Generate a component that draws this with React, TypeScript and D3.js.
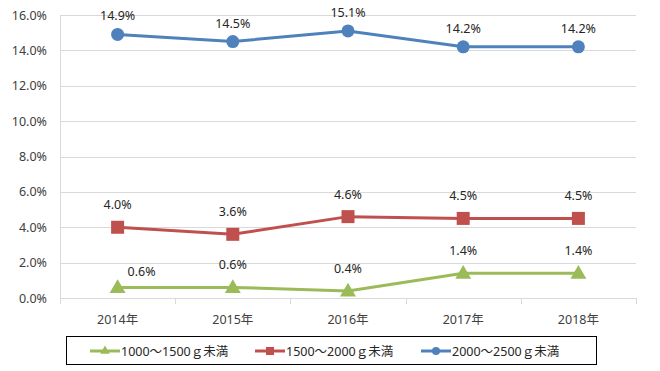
import React, { useEffect, useRef } from "react";
import * as d3 from "d3";

const years = ["2014年", "2015年", "2016年", "2017年", "2018年"];
const seriesNames = ["1000～1500ｇ未満", "1500～2000ｇ未満", "2000～2500ｇ未満"];
const green = [0.6, 0.6, 0.4, 1.4, 1.4];
const red = [4.0, 3.6, 4.6, 4.5, 4.5];
const blue = [14.9, 14.5, 15.1, 14.2, 14.2];
const yTicks = [0, 2, 4, 6, 8, 10, 12, 14, 16];

const colors = ["#9BBB59", "#C0504D", "#4F81BD"];
const font = "'Noto Sans', 'Noto Sans CJK JP', sans-serif";

const App = () => {
  const svgRef = useRef<SVGSVGElement | null>(null);

  useEffect(() => {
    const svg = d3.select(svgRef.current);
    svg.selectAll("*").remove();

    const margin = { top: 15, right: 24, bottom: 73, left: 60 };
    const W = 660, H = 371;
    const width = W - margin.left - margin.right;
    const height = H - margin.top - margin.bottom;

    const g = svg.append("g").attr("transform", `translate(${margin.left},${margin.top})`);

    const x = d3.scaleBand().domain(years).range([0, width]);
    const y = d3.scaleLinear().domain([0, 16]).range([height, 0]);

    // gridlines
    g.selectAll(".grid")
      .data(yTicks)
      .enter()
      .append("line")
      .attr("x1", 0)
      .attr("x2", width)
      .attr("y1", (d) => Math.round(y(d)) + 0.5)
      .attr("y2", (d) => Math.round(y(d)) + 0.5)
      .attr("stroke", "#D9D9D9")
      .attr("stroke-width", 1);

    // y axis line
    g.append("line")
      .attr("x1", 0.5).attr("x2", 0.5)
      .attr("y1", 0).attr("y2", height)
      .attr("stroke", "#D9D9D9");

    // x axis ticks between categories
    const tickXs = years.map((_, i) => i * x.step()).concat([width]);
    g.selectAll(".xtick")
      .data(tickXs)
      .enter()
      .append("line")
      .attr("x1", (d) => Math.round(d) + 0.5)
      .attr("x2", (d) => Math.round(d) + 0.5)
      .attr("y1", height)
      .attr("y2", height + 6)
      .attr("stroke", "#D9D9D9");

    // y labels
    g.selectAll(".ylab")
      .data(yTicks)
      .enter()
      .append("text")
      .attr("x", -13)
      .attr("y", (d) => y(d) + 4.5)
      .attr("text-anchor", "end")
      .attr("font-family", font)
      .attr("font-size", 12.5)
      .attr("fill", "#404040")
      .text((d) => d.toFixed(1) + "%");

    // x labels
    g.selectAll(".xlab")
      .data(years)
      .enter()
      .append("text")
      .attr("x", (d) => x(d)! + x.bandwidth() / 2)
      .attr("y", height + 26)
      .attr("text-anchor", "middle")
      .attr("font-family", font)
      .attr("font-size", 12.5)
      .attr("fill", "#404040")
      .text((d) => d);

    const all = [green, red, blue];
    const cx = (i: number) => x(years[i])! + x.bandwidth() / 2;
    const line = d3
      .line<number>()
      .x((_, i) => cx(i))
      .y((d) => y(d));

    const drawMarker = (sel: any, k: number, px: number, py: number) => {
      if (k === 0) {
        sel.append("path")
          .attr("d", d3.symbol().type(d3.symbolTriangle).size(110)())
          .attr("transform", `translate(${px},${py + 1})`)
          .attr("fill", colors[k]);
      } else if (k === 1) {
        sel.append("rect")
          .attr("x", px - 6.5).attr("y", py - 6.5)
          .attr("width", 13).attr("height", 13)
          .attr("fill", colors[k]);
      } else {
        sel.append("circle")
          .attr("cx", px).attr("cy", py).attr("r", 6.5)
          .attr("fill", colors[k]);
      }
    };

    all.forEach((vals, k) => {
      g.append("path")
        .datum(vals)
        .attr("d", line)
        .attr("fill", "none")
        .attr("stroke", colors[k])
        .attr("stroke-width", 3);
      vals.forEach((v, i) => drawMarker(g, k, cx(i), y(v)));
      vals.forEach((v, i) => {
        const shift = k === 0 && i === 0 ? 24 : 0;
        const up = k === 0 && i === 0 ? 11 : k === 2 ? 14 : 18;
        g.append("text")
          .attr("x", cx(i) + shift)
          .attr("y", y(v) - up)
          .attr("text-anchor", "middle")
          .attr("font-family", font)
          .attr("font-size", 12.5)
          .attr("fill", "#262626")
          .text(v.toFixed(1) + "%");
      });
    });

    // legend
    const lg = svg.append("g");
    lg.append("rect")
      .attr("x", 66.5).attr("y", 336.5)
      .attr("width", 530).attr("height", 28)
      .attr("fill", "none")
      .attr("stroke", "#000")
      .attr("stroke-width", 1);
    const legendX = [90, 255, 421];
    seriesNames.forEach((name, k) => {
      const lx = legendX[k];
      const ly = 351;
      lg.append("line")
        .attr("x1", lx).attr("x2", lx + 30)
        .attr("y1", ly).attr("y2", ly)
        .attr("stroke", colors[k]).attr("stroke-width", 3);
      const m = lg.append("g");
      if (k === 0) {
        m.append("path")
          .attr("d", d3.symbol().type(d3.symbolTriangle).size(40)())
          .attr("transform", `translate(${lx + 15},${ly})`)
          .attr("fill", colors[k]);
      } else if (k === 1) {
        m.append("rect").attr("x", lx + 11).attr("y", ly - 4).attr("width", 8).attr("height", 8).attr("fill", colors[k]);
      } else {
        m.append("circle").attr("cx", lx + 15).attr("cy", ly).attr("r", 4).attr("fill", colors[k]);
      }
      lg.append("text")
        .attr("x", lx + 31)
        .attr("y", ly + 4.5)
        .attr("font-family", font)
        .attr("font-size", 12.5)
        .attr("fill", "#262626")
        .text(name);
    });
  }, []);

  return (
    <svg
      ref={svgRef}
      width={660}
      height={371}
      style={{ position: "absolute", left: 0, top: 0, background: "#fff" }}
    ></svg>
  );
};

export default App;
